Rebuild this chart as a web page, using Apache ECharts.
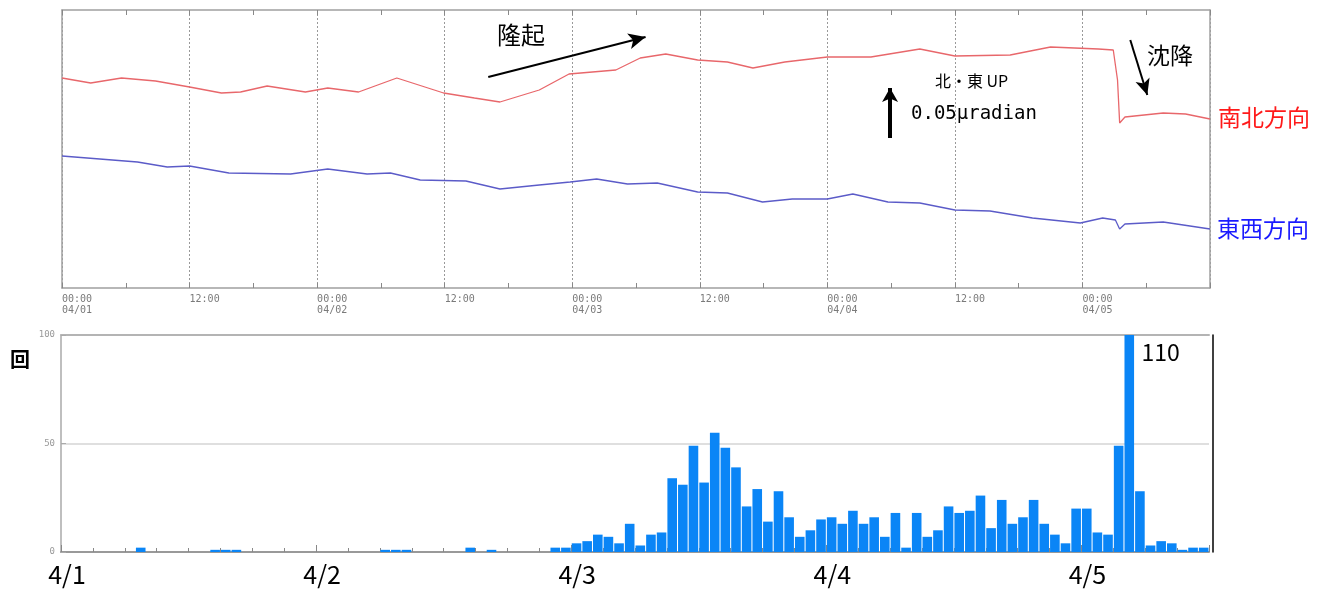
<!DOCTYPE html>
<html>
<head>
<meta charset="utf-8">
<title>傾斜計と地震回数</title>
<script src="https://cdn.jsdelivr.net/npm/echarts@6/dist/echarts.min.js"></script>
<style>
  html, body { margin: 0; padding: 0; background: #fff; }
  #main { width: 1325px; height: 591px; }
</style>
</head>
<body>
<div id="main"></div>
<script>
// tilt records, hours from 04/01 00:00, tilt in µradian (relative)
var nsHours = [0, 2.7, 5.6, 8.8, 12.0, 15.0, 16.8, 19.3, 22.9, 25.0, 27.9, 31.5, 35.9, 38.8, 41.2, 44.9,
  47.7, 52.1, 54.4, 56.8, 59.8, 62.6, 65.0, 68.0, 72.0, 76.1, 80.7, 84.0, 89.2, 93.0, 97.5, 98.9,
  99.3, 99.5, 100.0, 103.6, 105.7, 108.0];
var nsTilt = [0.210, 0.205, 0.210, 0.207, 0.201, 0.195, 0.196, 0.202, 0.196, 0.200, 0.196, 0.210, 0.195, 0.190, 0.186, 0.198,
  0.214, 0.218, 0.230, 0.234, 0.228, 0.226, 0.220, 0.226, 0.231, 0.231, 0.239, 0.232, 0.233, 0.241, 0.239, 0.238,
  0.208, 0.165, 0.171, 0.175, 0.174, 0.169];

var ewHours = [0, 7.1, 9.9, 12.0, 15.7, 21.5, 25.0, 28.7, 30.9, 33.7, 38.0, 41.2, 44.9, 47.8, 50.3, 53.2,
  56.0, 59.8, 62.6, 65.9, 68.7, 72.0, 74.4, 77.7, 80.7, 84.0, 87.3, 91.3, 95.8, 97.9, 99.1, 99.5,
  100.0, 103.6, 108.0];
var ewTilt = [0.132, 0.126, 0.121, 0.122, 0.115, 0.114, 0.119, 0.114, 0.115, 0.108, 0.107, 0.099, 0.103, 0.106, 0.109, 0.104,
  0.105, 0.096, 0.095, 0.086, 0.089, 0.089, 0.094, 0.086, 0.085, 0.078, 0.077, 0.070, 0.065, 0.070, 0.068, 0.059,
  0.064, 0.066, 0.059];

// hourly earthquake counts, 04/01 00:00 .. 04/05 11:00
var quakeCounts = [
  0, 0, 0, 0, 0, 0, 0, 2, 0, 0,
  0, 0, 0, 0, 1, 1, 1, 0, 0, 0,
  0, 0, 0, 0, 0, 0, 0, 0, 0, 0,
  1, 1, 1, 0, 0, 0, 0, 0, 2, 0,
  1, 0, 0, 0, 0, 0, 2, 2, 4, 5,
  8, 7, 4, 13, 3, 8, 9, 34, 31, 49,
  32, 55, 48, 39, 21, 29, 14, 28, 16, 7,
  10, 15, 16, 13, 19, 13, 16, 7, 18, 2,
  18, 7, 10, 21, 18, 19, 26, 11, 24, 13,
  16, 24, 13, 8, 4, 20, 20, 9, 8, 49,
  110, 28, 3, 5, 4, 1, 2, 2
];

var topTimeLabels = ['00:00\n04/01', '12:00', '00:00\n04/02', '12:00', '00:00\n04/03', '12:00',
  '00:00\n04/04', '12:00', '00:00\n04/05'];
var dayLabels = ['4/1', '4/2', '4/3', '4/4', '4/5'];

var countMax = 100;

function pairs(xs, ys) {
  return xs.map(function (x, i) { return [x, ys[i]]; });
}

var barData = quakeCounts.map(function (v, h) {
  var item = { value: [h + 0.5, v] };
  if (v > countMax) {
    item.label = {
      show: true,
      position: [17, 6],
      formatter: String(v),
      fontSize: 23,
      color: '#000',
      fontFamily: 'Noto Sans CJK JP'
    };
  }
  return item;
});

var gray = '#a0a0a0';
var chart = echarts.init(document.getElementById('main'));

function frameX(grid, pos, color, width) {
  return {
    gridIndex: grid, type: 'value', min: 0, max: 108, interval: 12, position: pos,
    axisLine: { onZero: false, lineStyle: { color: color, width: width } },
    axisTick: { inside: true, length: 5, lineStyle: { color: '#888' } },
    minorTick: { show: true, splitNumber: 2, length: 5, lineStyle: { color: '#888' } },
    splitLine: { show: false },
    axisLabel: { show: false }
  };
}

var topBottomAxis = frameX(0, 'bottom', gray, 1.5);
topBottomAxis.splitLine = { show: true, lineStyle: { color: '#999', type: [2, 2], width: 1 } };
topBottomAxis.axisLabel = {
  align: 'left', margin: 6, fontSize: 10, lineHeight: 11, color: '#7a7a7a',
  fontFamily: 'DejaVu Sans Mono',
  formatter: function (v) { return topTimeLabels[Math.round(v / 12)] || ''; }
};

var option = {
  animation: false,
  backgroundColor: '#fff',
  grid: [
    { left: 62, top: 10, width: 1148, height: 278 },
    { left: 61, top: 335, width: 1148, height: 217 }
  ],
  xAxis: [
    topBottomAxis,
    frameX(0, 'top', gray, 1.5),
    {
      gridIndex: 1, type: 'value', min: 0, max: 108, interval: 24, position: 'bottom',
      axisLine: { onZero: false, lineStyle: { color: '#999', width: 2 } },
      axisTick: { inside: true, length: 7, lineStyle: { color: '#888' } },
      minorTick: { show: true, splitNumber: 8, length: 4, lineStyle: { color: '#888' } },
      splitLine: { show: false },
      axisLabel: {
        margin: 10, fontSize: 25, color: '#000', fontFamily: 'Noto Sans CJK JP',
        padding: [0, 0, 0, 12],
        formatter: function (v) { return v % 24 === 0 ? (dayLabels[v / 24] || '') : ''; }
      }
    },
    {
      gridIndex: 1, type: 'value', min: 0, max: 108, position: 'top',
      axisLine: { onZero: false, lineStyle: { color: '#b4b4b4', width: 2 } },
      axisTick: { show: false }, axisLabel: { show: false }, splitLine: { show: false }
    }
  ],
  yAxis: [
    {
      gridIndex: 0, type: 'value', min: 0, max: 0.278, position: 'left',
      axisLine: { show: true, onZero: false, lineStyle: { color: gray, width: 1.5 } },
      axisTick: { show: false }, axisLabel: { show: false }, splitLine: { show: false }
    },
    {
      gridIndex: 0, type: 'value', min: 0, max: 0.278, position: 'right',
      axisLine: { show: true, onZero: false, lineStyle: { color: gray, width: 1.5 } },
      axisTick: { show: false }, axisLabel: { show: false }, splitLine: { show: false }
    },
    {
      gridIndex: 1, type: 'value', min: 0, max: countMax, interval: 50, position: 'left',
      axisLine: { show: true, onZero: false, lineStyle: { color: '#aaa', width: 1.5 } },
      axisTick: { show: true, inside: true, length: 5, lineStyle: { color: '#aaa' } },
      axisLabel: { fontSize: 9, color: '#999', margin: 6, fontFamily: 'DejaVu Sans Mono' },
      splitLine: { show: true, lineStyle: { color: '#d4d4d4', width: 1.5 } }
    },
    {
      gridIndex: 1, type: 'value', min: 0, max: countMax, position: 'right', offset: 4,
      axisLine: { show: true, onZero: false, lineStyle: { color: '#000', width: 1.5 } },
      axisTick: { show: false }, axisLabel: { show: false }, splitLine: { show: false }
    }
  ],
  series: [
    {
      name: '南北方向', type: 'line', xAxisIndex: 0, yAxisIndex: 0,
      data: pairs(nsHours, nsTilt), showSymbol: false, smooth: false,
      lineStyle: { color: '#e8676b', width: 1.3 },
      markLine: {
        silent: true, symbol: ['none', 'arrow'],
        label: { show: false },
        lineStyle: { color: '#000', width: 2, type: 'solid' },
        data: [
          [{ coord: [40.1, 0.211], symbolSize: 0 }, { coord: [54.9, 0.251], symbolSize: [12, 17] }],
          [{ coord: [100.5, 0.248], symbolSize: 0 }, { coord: [102.1, 0.193], symbolSize: [11, 16] }],
          [{ coord: [77.9, 0.150], symbolSize: 0, lineStyle: { width: 4 } },
           { coord: [77.9, 0.200], symbolSize: [12, 14] }]
        ]
      }
    },
    {
      name: '東西方向', type: 'line', xAxisIndex: 0, yAxisIndex: 0,
      data: pairs(ewHours, ewTilt), showSymbol: false, smooth: false,
      lineStyle: { color: '#5b5bc8', width: 1.3 }
    },
    {
      name: '回数', type: 'bar', xAxisIndex: 2, yAxisIndex: 2,
      data: barData, barWidth: 9.6,
      itemStyle: { color: '#0a85f6' }
    }
  ],
  graphic: [
    { type: 'text', left: 497, top: 23, style: { text: '隆起', fill: '#000', font: '24px "Noto Sans CJK JP"' } },
    { type: 'text', left: 1147, top: 44, style: { text: '沈降', fill: '#000', font: '23px "Noto Sans CJK JP"' } },
    { type: 'text', left: 935, top: 73, style: { text: '北・東 UP', fill: '#000', font: '16px "Noto Sans CJK JP"' } },
    { type: 'text', left: 911, top: 105, style: { text: '0.05μradian', fill: '#000', font: '19px "DejaVu Sans Mono"' } },
    { type: 'text', left: 1218, top: 106, style: { text: '南北方向', fill: '#ff1a1a', font: '23px "Noto Sans CJK JP"' } },
    { type: 'text', left: 1217, top: 217, style: { text: '東西方向', fill: '#1a1aff', font: '23px "Noto Sans CJK JP"' } },
    { type: 'text', left: 10, top: 349, style: { text: '回', fill: '#000', font: 'bold 20px "Noto Sans CJK JP"' } }
  ]
};

chart.setOption(option);
</script>
</body>
</html>
